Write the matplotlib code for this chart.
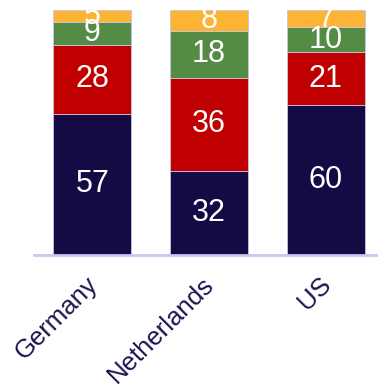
import matplotlib
matplotlib.use("Agg")
import matplotlib.pyplot as plt
import matplotlib.transforms as mtransforms
import numpy as np

plt.rcParams['font.family'] = ['Liberation Sans', 'DejaVu Sans']

countries = ["Germany", "Netherlands", "US"]
segment_a = [57, 32, 60]
segment_b = [28, 36, 21]
segment_c = [9, 18, 10]
segment_d = [5, 8, 7]

series = [segment_a, segment_b, segment_c, segment_d]
colors = ["#140a44", "#c00000", "#548c46", "#fdb333"]

fig = plt.figure(figsize=(3.78, 3.87), dpi=100)
ax = fig.add_axes([34 / 378, (387 - 254.5) / 387, 350 / 378, 244.5 / 387])

vals = np.array(series, dtype=float)
totals = vals.sum(axis=0)
shares = vals / totals

x = np.arange(len(countries))
bottom = np.zeros(len(countries))
for share, raw, col in zip(shares, vals, colors):
    ax.bar(x, share, width=0.67, bottom=bottom, color=col,
           edgecolor="#c9c4e6", linewidth=0.6, zorder=2)
    for xi, b, s, v in zip(x, bottom, share, raw):
        ax.text(xi, b + s / 2, f"{int(v)}", ha="center", va="center",
                color="white", fontsize=22, zorder=3)
    bottom += share

ax.set_xlim(-0.5, 2.5)
ax.set_ylim(0, 1)
ax.set_xticks(x)
ax.set_xticklabels(countries, rotation=45, ha="right", fontsize=18.5,
                   color="#1a1450")
ax.tick_params(axis="x", length=0, pad=13)
shift = mtransforms.ScaledTranslation(10 / 100, 0, fig.dpi_scale_trans)
for lbl in ax.get_xticklabels():
    lbl.set_transform(lbl.get_transform() + shift)
ax.set_yticks([])
for side in ["top", "right", "left"]:
    ax.spines[side].set_visible(False)
ax.spines["bottom"].set_color("#cbc6f2")
ax.spines["bottom"].set_linewidth(2)

fig.savefig("out.png", dpi=100)
